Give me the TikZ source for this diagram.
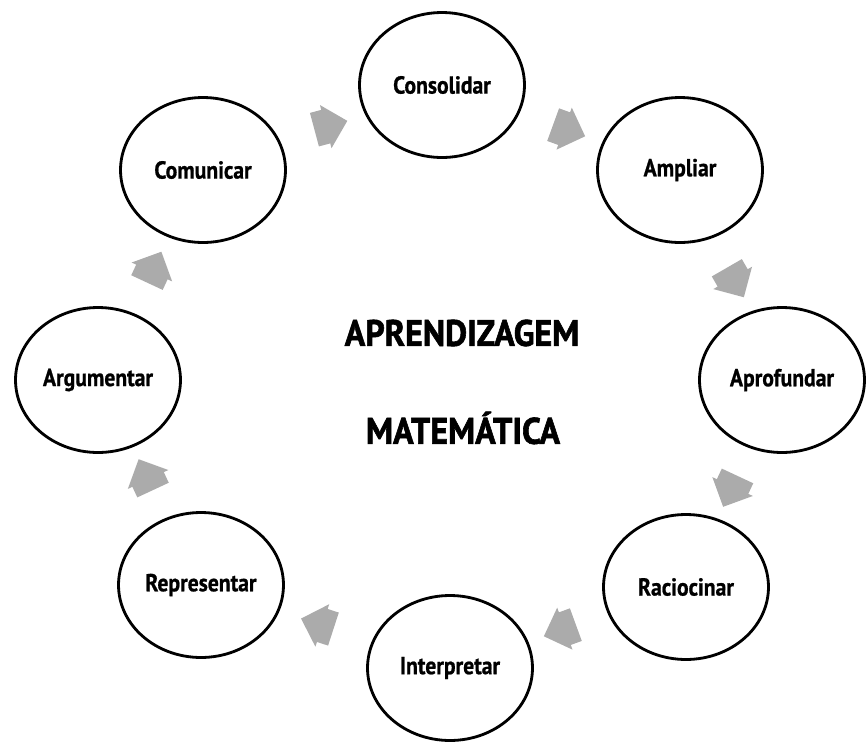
\documentclass[tikz,border=0pt]{standalone}
\usepackage{fontspec}
\setmainfont{PT Sans}[FakeStretch=0.88, BoldFeatures={FakeBold=0.8}]
\newfontfamily\titlefont{PT Sans}[FakeStretch=0.92, BoldFeatures={FakeBold=1.6}]
\usetikzlibrary{positioning,calc,shapes.geometric,shapes.arrows}
\tikzset{font=\bfseries}

\begin{document}
\begin{tikzpicture}[x=0.02cm,y=-0.02cm]
	\useasboundingbox (0,0) rectangle (867,751);
	\begin{scope}
		\tikzstyle{every node}=[align=center, inner sep=1pt]
		\tikzstyle{stage}=[draw, ellipse, line width=1.6pt, minimum width=3.3cm, minimum height=2.9cm, font=\fontsize{14}{16}\selectfont\bfseries]
		\tikzstyle{flow}=[single arrow, fill=black!33, inner xsep=0.16cm, inner ysep=0.34cm, single arrow head extend=0.1cm]
		\tikzstyle{title}=[font=\titlefont\fontsize{21}{24}\selectfont\bfseries]

		\node[stage] (cons) at (442, 85) {Consolidar};
		\node[stage] (ampl) at (680, 170) {Ampliar};
		\node[stage] (aprof) at (782, 380) {Aprofundar};
		\node[stage] (racio) at (686, 587) {Raciocinar};
		\node[stage] (inter) at (450, 668) {Interpretar};
		\node[stage] (repr) at (201, 585) {Representar};
		\node[stage] (argu) at (98, 380) {Argumentar};
		\node[stage] (comu) at (203, 170) {Comunicar};

		\node[title] (aprend) at (462, 333) {APRENDIZAGEM};
		\node[title] (mat) at (463, 428) {MATEMÁTICA};

		\node[flow, rotate=15] (f1) at ($(comu)!0.5!(cons)$) {};
		\node[flow, rotate=-20] (f2) at ($(cons)!0.5!(ampl)$) {};
		\node[flow, rotate=-60] (f3) at ($(ampl)!0.5!(aprof)$) {};
		\node[flow, rotate=-115] (f4) at ($(aprof)!0.5!(racio)$) {};
		\node[flow, rotate=200] (f5) at ($(racio)!0.5!(inter)$) {};
		\node[flow, rotate=162] (f6) at ($(inter)!0.5!(repr)$) {};
		\node[flow, rotate=115] (f7) at ($(repr)!0.5!(argu)$) {};
		\node[flow, rotate=65] (f8) at ($(argu)!0.5!(comu)$) {};
	\end{scope}
\end{tikzpicture}
\end{document}
